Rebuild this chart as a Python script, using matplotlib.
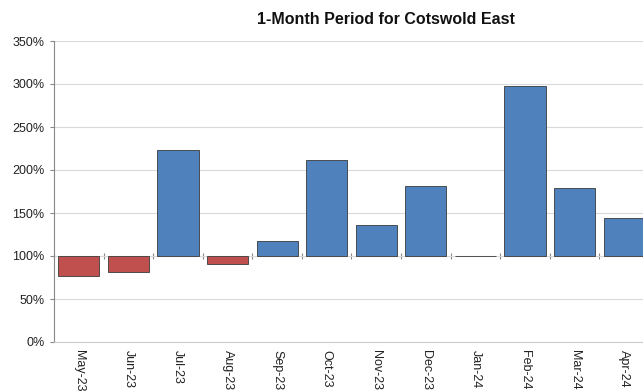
import matplotlib
matplotlib.use("Agg")
import matplotlib.pyplot as plt
import numpy as np
from matplotlib.ticker import FuncFormatter

months = ["May-23", "Jun-23", "Jul-23", "Aug-23", "Sep-23", "Oct-23",
          "Nov-23", "Dec-23", "Jan-24", "Feb-24", "Mar-24", "Apr-24"]
values = [77, 81, 223, 91, 117.5, 211.5, 136, 181, 99.6, 297.5, 179, 144]
baseline = 100
title = "1-Month Period for Cotswold East"

plt.rcParams['font.family'] = ['Liberation Sans', 'DejaVu Sans']

fig = plt.figure(figsize=(6.43, 3.92), dpi=100)
ax = fig.add_axes([54/643, 1 - 342/392, 595/643, 301/392])

x = np.arange(len(months))
vals = np.array(values)
colors = ["#4F81BD" if v >= baseline else "#C0504D" for v in vals]
ax.bar(x, vals - baseline, bottom=baseline, width=0.83, color=colors,
       edgecolor="#3a3a3a", linewidth=0.6, zorder=3)

ax.set_ylim(0, 350)
ax.set_xlim(-0.5, len(months) - 0.5)
ax.set_yticks(np.arange(0, 351, 50))
ax.yaxis.set_major_formatter(FuncFormatter(lambda v, p: f"{int(v)}%"))
ax.grid(axis="y", color="#d9d9d9", linewidth=0.8, zorder=0)
ax.set_axisbelow(True)

ax.set_xticks(x)
ax.set_xticklabels(months, rotation=-90, fontsize=9, color="#222222")
ax.tick_params(axis="x", length=0, pad=6)
ax.tick_params(axis="y", labelsize=9, colors="#222222", length=3, color="#888888", pad=4)

for s in ["top", "right"]:
    ax.spines[s].set_visible(False)
ax.spines["left"].set_color("#888888")
ax.spines["bottom"].set_color("#cccccc")

sec = ax.secondary_xaxis(baseline / 350)
sec.spines["bottom"].set_visible(False)
sec.set_xticks(np.arange(len(months) + 1) - 0.5)
sec.tick_params(axis="x", length=4, width=0.8, color="#888888", labelbottom=False, direction="inout")

fig.text(386/643, 1 - 20/392, title, ha="center", va="center",
         fontsize=11.5, fontweight="bold", color="#111111")

fig.savefig("out.png", dpi=100)
